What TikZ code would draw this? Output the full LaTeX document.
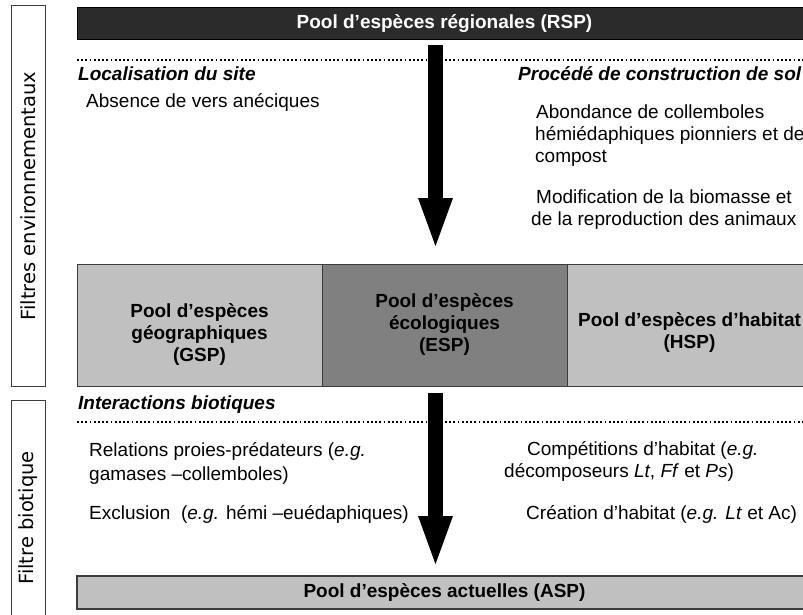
\documentclass[tikz,border=0pt]{standalone}
\usepackage{fontspec}
\setmainfont{Liberation Sans}
\newfontfamily\sidefont{DejaVu Sans}
\usetikzlibrary{arrows.meta}
\definecolor{topdark}{HTML}{2B2B2B}
\definecolor{lightg}{HTML}{C0C0C0}
\definecolor{midg}{HTML}{808080}
\definecolor{edge}{HTML}{3C3C3C}
\begin{document}
\begin{tikzpicture}[x=1pt,y=-1pt,
  body/.style={inner sep=0pt, anchor=west, font=\fontsize{19}{23}\selectfont, text height=13.6pt, text depth=4pt},
  sect/.style={body, font=\fontsize{19}{23}\selectfont\bfseries\itshape},
  sidebox/.style={draw=edge, line width=0.9pt, minimum width=34.7pt, inner sep=0pt},
  sidelbl/.style={rotate=90, inner sep=0pt, font=\sidefont\fontsize{19.5}{23}\selectfont},
  widebox/.style={minimum width=735pt, inner sep=0pt, font=\fontsize{19}{23}\selectfont\bfseries},
  cell/.style={draw=edge, line width=0.9pt, minimum width=245pt, minimum height=122.4pt, inner sep=0pt},
  celltxt/.style={align=center, inner sep=0pt, font=\fontsize{19}{22}\selectfont\bfseries},
  dotline/.style={line width=1.8pt, dash pattern=on 1.8pt off 2.4pt},
  bigarrow/.style={line width=15pt, -{Triangle[length=#1 0 0, width=30pt 0 0]}},
]
\clip (0,0) rectangle (803,614);
% side boxes
\node[sidebox, minimum height=381.4pt] (envbox) at (28.35,196) {};
\node[sidelbl] (envlbl) at (envbox.center) {Filtres environnementaux};
\node[sidebox, minimum height=224.3pt] (biobox) at (28.35,512.85) {};
\node[sidelbl] (biolbl) at (28.35,518) {Filtre biotique};
% top box
\node[widebox, draw=black, line width=0.8pt, fill=topdark, text=white, minimum height=32.3pt] (rsp) at (444.5,23.15) {Pool d’espèces régionales (RSP)};
% dotted line 1
\coordinate (d1a) at (77,60);
\coordinate (d1b) at (426,60);
\coordinate (d1c) at (445,60);
\coordinate (d1d) at (812,60);
\draw[dotline] (d1a) -- (d1b) (d1c) -- (d1d);
% section texts
\node[sect] (loc) at (78,76) {Localisation du site};
\node[sect] (proc) at (518,76) {Procédé de construction de sol};
\node[body] (abs) at (86,103) {Absence de vers anéciques};
\node[body] (abon) at (536,114) {Abondance de collemboles};
\node[body] (hemi) at (535,136) {hémiédaphiques pionniers et de};
\node[body] (comp) at (535,158) {compost};
\node[body] (modif) at (536,199) {Modification de la biomasse et};
\node[body] (repro) at (531,221) {de la reproduction des animaux};
% arrow 1
\coordinate (a1s) at (435.5,45);
\coordinate (a1e) at (435.5,251);
\draw[bigarrow=53pt] (a1s) -- (a1e);
% middle cells
\node[cell, fill=lightg] (gsp) at (199.5,325.5) {};
\node[cell, fill=midg] (esp) at (444.5,325.5) {};
\node[cell, fill=lightg] (hsp) at (689.5,325.5) {};
\node[celltxt] (gsptxt) at (199.5,334) {Pool d’espèces\\géographiques\\(GSP)};
\node[celltxt] (esptxt) at (444.5,324) {Pool d’espèces\\écologiques\\(ESP)};
\node[celltxt] (hsptxt) at (689.5,332) {Pool d’espèces d’habitat\\(HSP)};
% biotic section
\node[sect] (inter) at (78,405) {Interactions biotiques};
\coordinate (d2a) at (77,422);
\coordinate (d2b) at (426,422);
\coordinate (d2c) at (445,422);
\coordinate (d2d) at (812,422);
\draw[dotline] (d2a) -- (d2b) (d2c) -- (d2d);
\node[body] (rel) at (89,452) {Relations proies-prédateurs (\textit{e.g.}};
\node[body] (gam) at (89,476) {gamases –collemboles)};
\node[body] (excl) at (89,515) {Exclusion~ (\textit{e.g.} hémi –euédaphiques)};
\node[body] (compet) at (527,451) {Compétitions d’habitat (\textit{e.g.}};
\node[body] (decomp) at (504,473) {décomposeurs \textit{Lt}, \textit{Ff} et \textit{Ps})};
\node[body] (creat) at (526,515) {Création d’habitat (\textit{e.g. Lt} et Ac)};
% arrow 2
\coordinate (a2s) at (435.5,393);
\coordinate (a2e) at (435.5,569);
\draw[bigarrow=53pt] (a2s) -- (a2e);
% bottom box
\node[widebox, draw=edge, line width=1.6pt, fill=lightg, minimum height=33pt] (asp) at (444.5,592.5) {Pool d’espèces actuelles (ASP)};
\end{tikzpicture}
\end{document}
